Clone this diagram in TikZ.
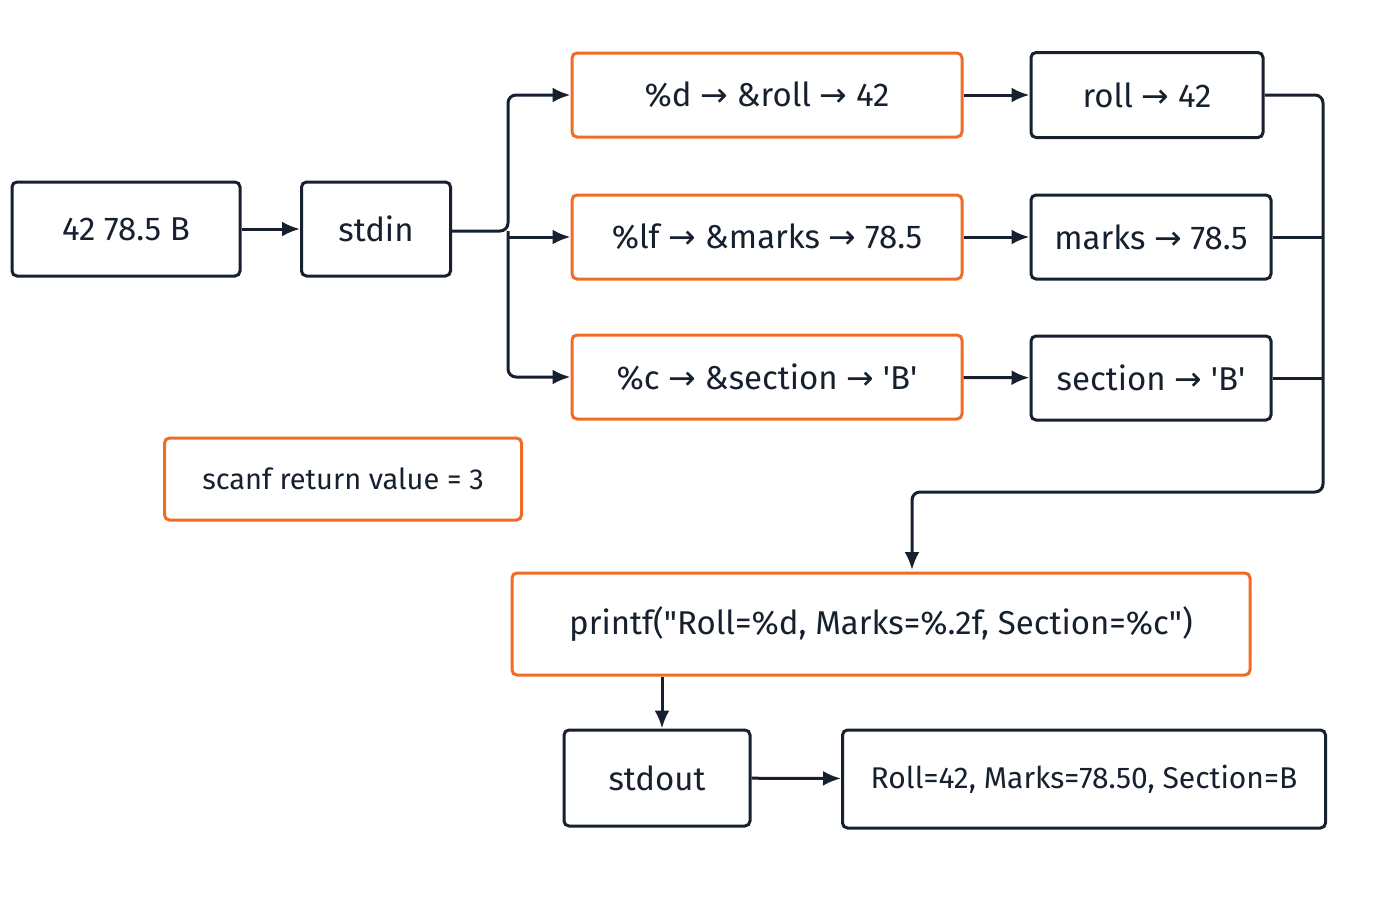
\documentclass[tikz,border=0pt]{standalone}
\usepackage{fontspec}
\setmainfont{Fira Sans}
\newfontfamily\arrowfont{DejaVu Sans}
\newfontfamily\quotefont{Fira Sans}
\usetikzlibrary{arrows.meta}
\definecolor{navy}{RGB}{22,32,46}
\definecolor{orng}{RGB}{240,108,38}
\newcommand{\ra}{~{\arrowfont\char"2192}~}
\newcommand{\sq}{{\quotefont'}}
\newcommand{\dq}{{\quotefont"}}
\tikzset{
  box/.style={draw=navy,line width=3pt,rounded corners=5pt,font=\fontsize{33}{38}\selectfont,text=navy,inner sep=0pt},
  obox/.style={box,draw=orng},
  line/.style={draw=navy,line width=3pt,rounded corners=8pt},
  conn/.style={line,-{Latex[length=18pt,width=15pt]}}
}
\begin{document}
\begin{tikzpicture}[x=1pt,y=-1pt]
\useasboundingbox (0,0) rectangle (1400,900);
\node (input) at (126,229) [box,minimum width=228pt,minimum height=94pt] {42 78.5 B};
\node (stdin) at (376,229) [box,minimum width=149pt,minimum height=94pt] {stdin};
\node (fmtd) at (767,95) [obox,minimum width=390pt,minimum height=84pt] {\%d\ra\&roll\ra42};
\node (fmtlf) at (767,237) [obox,minimum width=390pt,minimum height=84pt] {\%lf\ra\&marks\ra78.5};
\node (fmtc) at (767,377) [obox,minimum width=390pt,minimum height=84pt] {\%c\ra\&section\ra\sq B\sq};
\node (roll) at (1147,95) [box,minimum width=232pt,minimum height=85pt] {roll\ra42};
\node (marks) at (1151,237) [box,minimum width=240pt,minimum height=84pt] {marks\ra78.5};
\node (section) at (1151,378) [box,minimum width=240pt,minimum height=84pt] {section\ra\sq B\sq};
\node (ret) at (343,479) [obox,minimum width=357pt,minimum height=82pt,font=\fontsize{29}{34}\selectfont] {scanf return value = 3};
\node (printf) at (881,624) [obox,minimum width=738pt,minimum height=102pt] {printf(\dq Roll=\%d, Marks=\%.2f, Section=\%c\dq)};
\node (stdout) at (657,778) [box,minimum width=186pt,minimum height=96pt] {stdout};
\node (result) at (1084,779) [box,minimum width=483pt,minimum height=98pt,font=\fontsize{30}{35}\selectfont] {Roll=42, Marks=78.50, Section=B};
\coordinate (split) at (508,231);
\draw[conn] (input) -- (stdin);
\draw[conn] (stdin.east |- split) -- (split) |- (fmtd.west);
\draw[conn] (split |- fmtlf.west) -- (fmtlf.west);
\draw[conn] (split) |- (fmtc.west);
\draw[conn] (fmtd) -- (roll);
\draw[conn] (fmtlf) -- (marks);
\draw[conn] (fmtc) -- (section);
\draw[conn] (roll.east) -| (1323,492) -| (912,570);
\draw[line] (marks.east) -- (1323,237);
\draw[line] (section.east) -- (1323,378);
\draw[conn] ([xshift=5pt]printf.south -| stdout.north) -- ([xshift=5pt]stdout.north);
\draw[conn] (stdout) -- (result);
\end{tikzpicture}
\end{document}
